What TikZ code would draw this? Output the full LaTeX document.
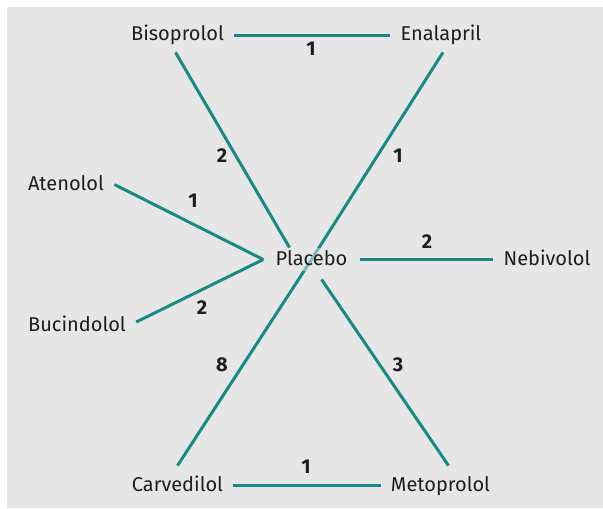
\documentclass[tikz,border=0pt]{standalone}
\usepackage{fontspec}
\setmainfont{Fira Sans}
\usepackage{xcolor}
\usetikzlibrary{backgrounds}

\definecolor{linkteal}{RGB}{24,138,132}
\definecolor{panelgray}{RGB}{230,230,230}
\definecolor{inkgray}{RGB}{30,30,30}

\begin{document}
\begin{tikzpicture}[x=0.5pt,y=-0.5pt,font=\fontsize{10}{12}\selectfont,
  drug/.style={text=inkgray,inner sep=5pt,text height=7.5pt,text depth=2pt,anchor=base},
  num/.style={font=\fontsize{10}{12}\selectfont\bfseries,text=inkgray},
  link/.style={draw=linkteal,line width=1.5pt}]
\useasboundingbox (0,0) rectangle (603,508);
\begin{pgfonlayer}{background}
\fill[panelgray] (7,7) rectangle (603,508);
\end{pgfonlayer}
% treatments
\node[drug] (bis) at (177.5,41) {Bisoprolol};
\node[drug] (ena) at (441,41) {Enalapril};
\node[drug] (ate) at (66,190) {Atenolol};
\node[drug] (buc) at (77,331.5) {Bucindolol};
\node[drug,inner xsep=6pt,inner ysep=1pt,fill=panelgray,fill opacity=.5,text opacity=1] (plac) at (311.5,265) {Placebo};
\node[drug] (neb) at (547,265) {Nebivolol};
\node[drug] (carv) at (177.5,491) {Carvedilol};
\node[drug] (met) at (440.5,491) {Metoprolol};
% number of trials
\node[num] (nBisEna) at (311,49) {1};
\node[num] (nBisPlac) at (222,156) {2};
\node[num] (nEnaPlac) at (398,156) {1};
\node[num] (nAtePlac) at (193,201) {1};
\node[num] (nBucPlac) at (202,308) {2};
\node[num] (nNebPlac) at (427,242) {2};
\node[num] (nCarvPlac) at (222,365) {8};
\node[num] (nMetPlac) at (398,365) {3};
\node[num] (nCarvMet) at (306,467) {1};
% comparisons
\begin{pgfonlayer}{background}
\draw[link] (bis.east) -- (ena.west);
\draw[link] ([xshift=-1pt,yshift=1.5pt]bis.south) -- ([xshift=-11pt]plac.north);
\draw[link] ([xshift=1pt,yshift=1.5pt]ena.south) -- (plac.center);
\draw[link] (plac.center) -- (carv.north);
\draw[link] (ate.east) -- (plac.west);
\draw[link] ([yshift=2pt]buc.east) -- (plac.west);
\draw[link] (plac.east) -- (neb.west);
\draw[link] ([xshift=5pt,yshift=-4pt]plac.south) -- ([xshift=4pt]met.north);
\draw[link] (carv.east) -- (met.west);
\end{pgfonlayer}
\end{tikzpicture}
\end{document}
